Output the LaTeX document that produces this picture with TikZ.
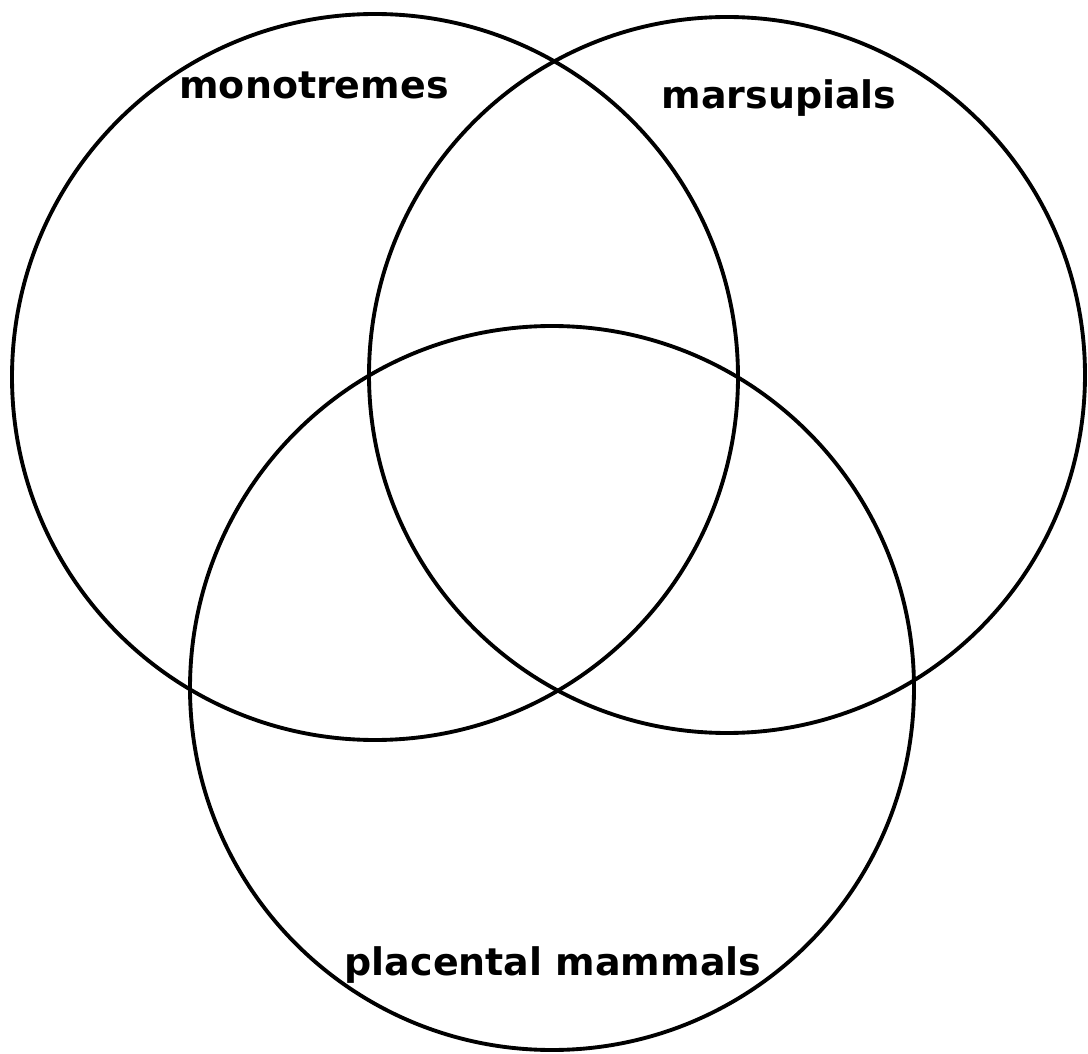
\documentclass[tikz,border=0pt]{standalone}
\usepackage{fontspec}
\setmainfont{DejaVu Sans}
\usepackage{tikz}

\begin{document}
\begin{tikzpicture}[line width=1.1pt, nhan/.style={font=\bfseries\fontsize{10.8}{13}\selectfont, inner sep=0pt}]
    \useasboundingbox (0,0) rectangle (10.88,10.53);
    
    % Ba đường tròn
    \draw (3.75,6.76) circle (3.63);
    \draw (7.27,6.78) circle (3.58);
    \draw (5.52,3.65) circle (3.62);
    
    % Nhãn
    \node[nhan] (mono) at (3.14,9.68) {monotremes};
    \node[nhan] (mars) at (7.79,9.55) {marsupials};
    \node[nhan] (plac) at (5.53,0.88) {placental mammals};
\end{tikzpicture}
\end{document}
